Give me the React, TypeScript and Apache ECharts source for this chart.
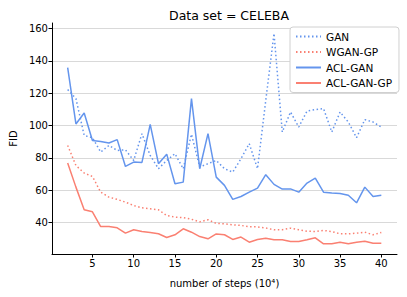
import React, { useEffect, useRef } from "react";
import * as echarts from "echarts";

const steps = Array.from({ length: 39 }, (_, i) => i + 2);
const gan = [122.3, 116.7, 93.9, 92.5, 83.6, 87.7, 84.6, 85, 78.4, 95, 81.5, 73.3, 78.4, 82.6, 73.3, 94.6, 74.3, 76.4, 78.4, 73.3, 71.2, 79.5, 88.8, 73.3, 115.6, 157, 96, 108.4, 99.1, 109, 109.9, 110.5, 96, 108.4, 102.2, 92.5, 103.7, 102.2, 99.1];
const wganGp = [87.7, 75.3, 70.6, 68.5, 58.8, 55.7, 54.3, 52.6, 50.5, 49.1, 48.5, 47.9, 44.3, 43.3, 43, 42, 40.4, 41.7, 39.4, 39.2, 38.6, 38.2, 37.3, 37.3, 36.6, 35.5, 35.5, 36.5, 35.5, 34.6, 34.4, 35.1, 34.4, 33, 33, 33.4, 34, 32.4, 33.8];
const aclGan = [135.9, 101, 107.8, 90.8, 90.2, 89.2, 91.3, 74.7, 77.4, 77.2, 100.8, 76.4, 82.3, 64, 65, 116.7, 73.3, 95, 68.1, 63, 54.3, 56.1, 58.8, 61.3, 69.6, 63.6, 60.7, 60.8, 58.8, 64.4, 67.5, 58.8, 58.2, 58, 56.9, 52.2, 61.9, 56.1, 56.9];
const aclGanGp = [76.8, 61.9, 47.9, 46.6, 37.5, 37.5, 36.7, 33.4, 35.5, 34.4, 33.8, 33, 30.7, 32.4, 36.1, 34, 31.3, 29.9, 32.9, 32.4, 29.5, 31, 27.8, 29.5, 30.3, 29.3, 29.3, 28.2, 28.2, 29.3, 30.5, 26.8, 26.8, 27.8, 26.8, 27.8, 28.4, 27.2, 27.2];
const xTicks = [5, 10, 15, 20, 25, 30, 35, 40];
const yTicks = [40, 60, 80, 100, 120, 140, 160];

const BLUE = "#6495ED";
const SALMON = "#FA8072";
const FONT = "DejaVu Sans";

export default function App() {
  const ref = useRef<HTMLDivElement>(null);
  useEffect(() => {
    if (!ref.current) return;
    const chart = echarts.init(ref.current, null, { renderer: "svg" });
    const mk = (name: string, data: number[], color: string, dotted: boolean) => ({
      name,
      type: "line",
      data: steps.map((s, i) => [s, data[i]]),
      symbol: "none",
      lineStyle: { color, width: 1.5, type: dotted ? [1.5, 2.5] : "solid" },
      itemStyle: { color },
    });
    chart.setOption({
      animation: false,
      textStyle: { fontFamily: FONT },
      title: {
        text: "Data set = CELEBA",
        left: 224,
        textAlign: "center",
        top: 4,
        textStyle: { fontFamily: FONT, fontSize: 12.5, fontWeight: "normal", color: "#000" },
      },
      grid: { left: 49, right: 10, top: 23, bottom: 43, containLabel: false },
      legend: {
        orient: "vertical",
        left: 290,
        top: 27,
        itemWidth: 25,
        itemHeight: 10,
        itemGap: 4.5,
        padding: [4, 7, 4, 5],
        backgroundColor: "#fff",
        borderColor: "#d0d0d0",
        borderWidth: 1,
        borderRadius: 3,
        itemStyle: { opacity: 0 },
        textStyle: { fontFamily: FONT, fontSize: 10.5, color: "#000" },
        data: ["GAN", "WGAN-GP", "ACL-GAN", "ACL-GAN-GP"],
      },
      xAxis: {
        type: "value",
        min: 0.1,
        max: 41.9,
        name: "number of steps (10⁴)",
        nameLocation: "middle",
        nameGap: 24,
        nameTextStyle: { fontFamily: FONT, fontSize: 10, color: "#000" },
        axisLine: { show: true, lineStyle: { color: "#000", width: 1 } },
        axisTick: { show: true, inside: false, length: 3.5, customValues: xTicks, lineStyle: { color: "#000" } },
        axisLabel: { customValues: xTicks, fontFamily: FONT, fontSize: 10, color: "#000", margin: 4 },
        splitLine: { show: false },
      },
      yAxis: {
        type: "value",
        min: 20.5,
        max: 163.5,
        name: "FID",
        nameLocation: "middle",
        nameGap: 31,
        nameTextStyle: { fontFamily: FONT, fontSize: 10, color: "#000" },
        axisLine: { show: true, lineStyle: { color: "#000", width: 1 } },
        axisTick: { show: true, inside: false, length: 3.5, customValues: yTicks, lineStyle: { color: "#000" } },
        axisLabel: { customValues: yTicks, fontFamily: FONT, fontSize: 10, color: "#000", margin: 4 },
        splitLine: { show: true, customValues: yTicks, lineStyle: { color: "#d9d9d9", width: 1 } },
      },
      series: [
        mk("GAN", gan, BLUE, true),
        mk("WGAN-GP", wganGp, SALMON, true),
        mk("ACL-GAN", aclGan, BLUE, false),
        mk("ACL-GAN-GP", aclGanGp, SALMON, false),
      ],
    });
    return () => chart.dispose();
  }, []);
  return <div ref={ref} style={{ width: 407, height: 297, position: "absolute", left: 0, top: 0 }} />;
}
